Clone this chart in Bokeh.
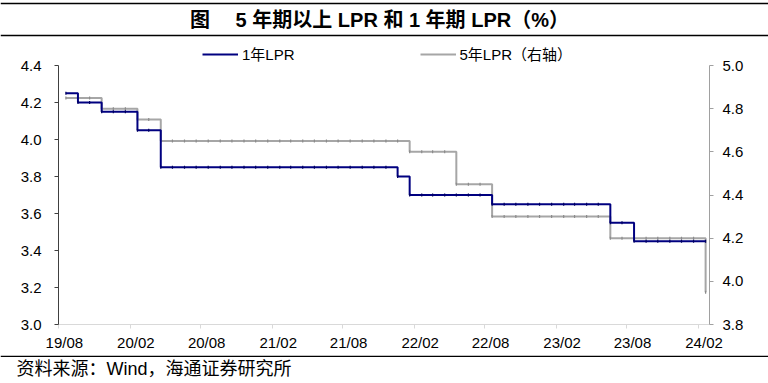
import datetime as dt
from bokeh.plotting import figure
from bokeh.models import (Range1d, LinearAxis, FixedTicker, NumeralTickFormatter,
                          Legend, LegendItem, Span, ColumnDataSource)
from bokeh.layouts import column
from bokeh.core.properties import value
from bokeh.embed import file_html
from bokeh.resources import INLINE

# ---------------- data ----------------
months = [
    "2019-08", "2019-09", "2019-10", "2019-11", "2019-12",
    "2020-01", "2020-02", "2020-03", "2020-04", "2020-05", "2020-06",
    "2020-07", "2020-08", "2020-09", "2020-10", "2020-11", "2020-12",
    "2021-01", "2021-02", "2021-03", "2021-04", "2021-05", "2021-06",
    "2021-07", "2021-08", "2021-09", "2021-10", "2021-11", "2021-12",
    "2022-01", "2022-02", "2022-03", "2022-04", "2022-05", "2022-06",
    "2022-07", "2022-08", "2022-09", "2022-10", "2022-11", "2022-12",
    "2023-01", "2023-02", "2023-03", "2023-04", "2023-05", "2023-06",
    "2023-07", "2023-08", "2023-09", "2023-10", "2023-11", "2023-12",
    "2024-01", "2024-02",
]
lpr_1y = [
    4.25, 4.20, 4.20, 4.15, 4.15,
    4.15, 4.05, 4.05, 3.85, 3.85, 3.85,
    3.85, 3.85, 3.85, 3.85, 3.85, 3.85,
    3.85, 3.85, 3.85, 3.85, 3.85, 3.85,
    3.85, 3.85, 3.85, 3.85, 3.85, 3.80,
    3.70, 3.70, 3.70, 3.70, 3.70, 3.70,
    3.70, 3.65, 3.65, 3.65, 3.65, 3.65,
    3.65, 3.65, 3.65, 3.65, 3.65, 3.55,
    3.55, 3.45, 3.45, 3.45, 3.45, 3.45,
    3.45, 3.45,
]
lpr_5y = [
    4.85, 4.85, 4.85, 4.80, 4.80,
    4.80, 4.75, 4.75, 4.65, 4.65, 4.65,
    4.65, 4.65, 4.65, 4.65, 4.65, 4.65,
    4.65, 4.65, 4.65, 4.65, 4.65, 4.65,
    4.65, 4.65, 4.65, 4.65, 4.65, 4.65,
    4.60, 4.60, 4.60, 4.60, 4.45, 4.45,
    4.45, 4.30, 4.30, 4.30, 4.30, 4.30,
    4.30, 4.30, 4.30, 4.30, 4.30, 4.20,
    4.20, 4.20, 4.20, 4.20, 4.20, 4.20,
    4.20, 3.95,
]
tick_months = ["2019-08", "2020-02", "2020-08", "2021-02", "2021-08",
               "2022-02", "2022-08", "2023-02", "2023-08", "2024-02"]
tick_labels = ["19/08", "20/02", "20/08", "21/02", "21/08",
               "22/02", "22/08", "23/02", "23/08", "24/02"]
left_ticks = [3.0, 3.2, 3.4, 3.6, 3.8, 4.0, 4.2, 4.4]
right_ticks = [3.8, 4.0, 4.2, 4.4, 4.6, 4.8, 5.0]

title_text = "图　 5 年期以上 LPR 和 1 年期 LPR（%）"
source_text = "资料来源：Wind，海通证券研究所"
name_1y = "1年LPR"
name_5y = "5年LPR（右轴）"

# ---------------- helpers ----------------
EPOCH = dt.datetime(1970, 1, 1)


def ms(d):
    return (d - EPOCH).total_seconds() * 1000.0


def month_start(s):
    y, m = s.split("-")
    return dt.datetime(int(y), int(m), 1)


def fixing_day(s):
    y, m = s.split("-")
    return dt.datetime(int(y), int(m), 20)


FONT = "'Liberation Sans', 'Noto Sans CJK SC', sans-serif"
NAVY = "#000080"
GRAY = "#A6A6A6"
W = 768

xs = [fixing_day(s) for s in months]
src = ColumnDataSource(dict(x=xs, y1=lpr_1y, y5=lpr_5y))

# ---------------- title strip ----------------
top = figure(width=W, height=40, x_range=Range1d(0, W), y_range=Range1d(40, 0),
             output_backend="svg", toolbar_location=None, min_border=0,
             x_axis_location=None, y_axis_location=None, outline_line_color=None,
             frame_align=False)
top.grid.visible = False
top.add_layout(Span(location=3, dimension="width", line_color="black", line_width=1.5))
top.add_layout(Span(location=35, dimension="width", line_color="black", line_width=1.5))
top.text(x=[379], y=[19.5], text=[title_text], text_font=value(FONT),
         text_font_size="20px", text_font_style="bold", text_align="center",
         text_baseline="middle", text_color="black")

# ---------------- main chart ----------------
# frame spans 45..324 px; axes are bounded to their tick span (3.0-4.4 / 3.8-5.0)
# the extra room on top of the frame holds the legend
L_MIN, L_MAX = 3.0, 4.4
R_MIN, R_MAX = 3.8, 5.0
axis_px = 259.0
head_px = 20.0
x_start = month_start("2019-08")
x_end = month_start("2024-03")
p = figure(width=W, height=315, x_axis_type="datetime",
           x_range=Range1d(ms(x_start), ms(x_end)),
           y_range=Range1d(L_MIN, L_MAX + (L_MAX - L_MIN) * head_px / axis_px),
           output_backend="svg", toolbar_location=None,
           min_border_left=58, min_border_right=59, min_border_top=5,
           min_border_bottom=31, frame_align=False)
p.outline_line_color = None
p.xgrid.visible = False
p.ygrid.visible = False
p.extra_y_ranges = {"right": Range1d(R_MIN, R_MAX + (R_MAX - R_MIN) * head_px / axis_px)}

half_month = 15 * 86400000.0
label_pos = [ms(month_start(s)) + half_month for s in tick_months]
tick_pos = [ms(month_start(s)) for s in tick_months]
xa = p.xaxis[0]
xa.ticker = FixedTicker(ticks=label_pos, minor_ticks=tick_pos)
xa.major_label_overrides = {v: lab for v, lab in zip(label_pos, tick_labels)}
xa.axis_line_color = "#D9D9D9"
xa.major_tick_line_color = None
xa.major_tick_out = 0
xa.major_tick_in = 0
xa.minor_tick_line_color = "#D9D9D9"
xa.minor_tick_out = 4
xa.minor_tick_in = 0
xa.major_label_standoff = 5
xa.major_label_text_font = FONT
xa.major_label_text_font_size = "15px"
xa.major_label_text_color = "black"

ya = p.yaxis[0]
ya.ticker = FixedTicker(ticks=left_ticks)
ya.formatter = NumeralTickFormatter(format="0.0")
ya.bounds = (L_MIN, L_MAX)
ya.axis_line_color = "#404040"
ya.major_tick_line_color = "#404040"
ya.major_tick_out = 4
ya.major_tick_in = 0
ya.minor_tick_line_color = None
ya.major_label_standoff = 13
ya.major_label_text_font = FONT
ya.major_label_text_font_size = "15px"
ya.major_label_text_color = "black"

ra = LinearAxis(y_range_name="right", ticker=FixedTicker(ticks=right_ticks),
                formatter=NumeralTickFormatter(format="0.0"), bounds=(R_MIN, R_MAX))
ra.axis_line_color = "#A0A0A0"
ra.major_tick_line_color = "#A0A0A0"
ra.major_tick_out = 4
ra.major_tick_in = 0
ra.minor_tick_line_color = None
ra.major_label_standoff = 9
ra.major_label_text_font = FONT
ra.major_label_text_font_size = "15px"
ra.major_label_text_color = "black"
p.add_layout(ra, "right")

r5 = p.step(x="x", y="y5", source=src, mode="after", line_color=GRAY,
            line_width=2, y_range_name="right")
p.scatter(x="x", y="y5", source=src, marker="dash", angle=1.5708, size=3,
          line_color="#8C8C8C", line_width=1.2, y_range_name="right")
r1 = p.step(x="x", y="y1", source=src, mode="after", line_color=NAVY,
            line_width=2)
p.scatter(x="x", y="y1", source=src, marker="dash", angle=1.5708, size=3,
          line_color="#000060", line_width=1.2)

legend = Legend(items=[LegendItem(label=name_1y, renderers=[r1]),
                       LegendItem(label=name_5y, renderers=[r5])],
                location=(144, 260), orientation="horizontal",
                glyph_width=36, glyph_height=16, label_height=16,
                label_standoff=4, spacing=125, padding=0, margin=0,
                background_fill_alpha=0, border_line_color=None,
                label_text_font=FONT, label_text_font_size="15px",
                label_text_color="black")
p.add_layout(legend, "center")

# ---------------- source strip ----------------
bot = figure(width=W, height=28, x_range=Range1d(0, W), y_range=Range1d(28, 0),
             output_backend="svg", toolbar_location=None, min_border=0,
             x_axis_location=None, y_axis_location=None, outline_line_color=None,
             frame_align=False)
bot.grid.visible = False
bot.add_layout(Span(location=0.75, dimension="width", line_color="black", line_width=1.5))
bot.text(x=[16], y=[13], text=[source_text], text_font=value(FONT),
         text_font_size="18px", text_align="left", text_baseline="middle",
         text_color="black")

layout = column(top, p, bot, spacing=0)
open("out.html", "w").write(file_html(layout, INLINE))
